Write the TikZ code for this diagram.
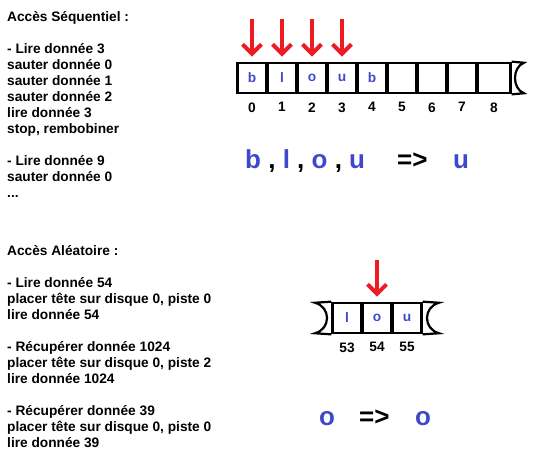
\documentclass[tikz,border=0pt]{standalone}
\usepackage{fontspec}
\setmainfont{Liberation Sans}
\usetikzlibrary{arrows.meta,positioning}
\definecolor{tapeblue}{RGB}{63,72,204}
\definecolor{headred}{RGB}{237,28,36}
\newcommand{\blu}[1]{\textcolor{tapeblue}{#1}}

\begin{document}
\begin{tikzpicture}[x=1pt,y=-1pt,font=\fontsize{13.7}{16}\selectfont\bfseries,
  cell/.style={draw,line width=2.2pt,minimum width=29pt,minimum height=30.5pt,inner sep=0pt,text=tapeblue},
  idx/.style={below=8pt of #1,inner sep=0pt},
  head/.style={draw=headred,line width=4pt,-{Straight Barb[length=9.5pt,width=19pt]},shorten >=5pt},
  roll/.style={line width=2.2pt},
  txt/.style={align=left,inner sep=0pt,anchor=base west},
  big/.style={font=\fontsize{26}{30}\selectfont\bfseries,inner sep=0pt,anchor=base west}]
\useasboundingbox (0,0) rectangle (533,463);
% explications (base = derniere ligne)
\node[txt] (seq) at (7,197) {Accès Séquentiel :\\[16pt]- Lire donnée 3\\sauter donnée 0\\sauter donnée 1\\sauter donnée 2\\lire donnée 3\\stop, rembobiner\\[16pt]- Lire donnée 9\\sauter donnée 0\\...};
\node[txt] (rnd) at (7,447) {Accès Aléatoire :\\[16pt]- Lire donnée 54\\placer tête sur disque 0, piste 0\\lire donnée 54\\[16pt]- Récupérer donnée 1024\\placer tête sur disque 0, piste 2\\lire donnée 1024\\[16pt]- Récupérer donnée 39\\placer tête sur disque 0, piste 0\\lire donnée 39};
% bande sequentielle
\foreach \i/\c in {0/b,1/l,2/o,3/u,4/b,5/,6/,7/}
  \node[cell] (c\i) at ({252+30*\i},78) {\c};
\node[cell,minimum width=33pt] (c8) at (494,78) {};
\foreach \i in {0,...,8} \node[idx=c\i] (n\i) {\i};
\draw[roll] (c8.north east) -- (524,62.75) .. controls (512,67) and (512,89) .. (524,93.25) -- (c8.south east);
\foreach \i in {0,...,3} {
  \coordinate (h\i) at ({252+30*\i},19);
  \draw[head] (h\i) -- (c\i.north);
}
\node[big] (seqread) at (245,168) {\blu{b} , \blu{l} , \blu{o} , \blu{u}};
\node[big] (seqimpl) at (397,168) {=>};
\node[big,text=tapeblue] (seqout) at (453,168) {u};
% bande aleatoire
\foreach \i/\c [count=\k from 0] in {53/l,54/o,55/u}
  \node[cell] (d\i) at ({347+30*\k},318) {\c};
\foreach \i in {53,54,55} \node[idx=d\i] (m\i) {\i};
\draw[roll] (d53.north west) -- (315,302.75) .. controls (331,307) and (331,329) .. (315,333.25) -- (d53.south west);
\draw[roll] (d55.north east) -- (439,302.75) .. controls (423,307) and (423,329) .. (439,333.25) -- (d55.south east);
\coordinate (h54) at (377,260);
\draw[head] (h54) -- (d54.north);
\node[big,text=tapeblue] (rndread) at (319,425) {o};
\node[big] (rndimpl) at (359,425) {=>};
\node[big,text=tapeblue] (rndout) at (415,425) {o};
\end{tikzpicture}
\end{document}
